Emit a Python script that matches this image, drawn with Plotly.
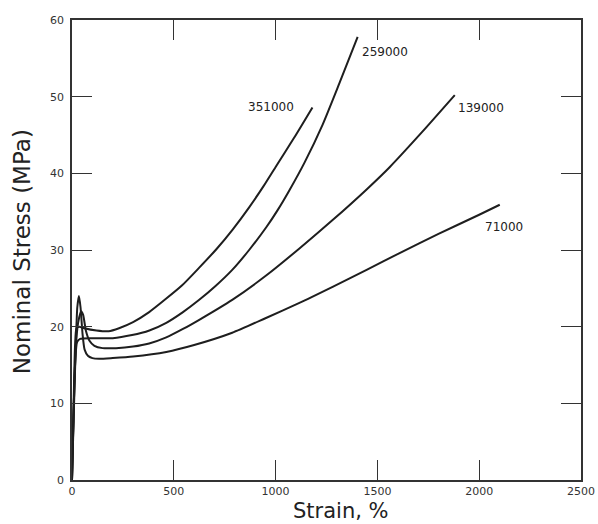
import plotly.graph_objects as go

# Molecular weight labels
labels = ["351000", "259000", "139000", "71000"]

# Strain (%) and nominal stress (MPa)
strain_351 = [0, 8, 15, 22, 35, 60, 120, 180, 231, 300, 379, 460, 541, 625, 709, 790, 871, 940, 1004, 1090, 1181]
stress_351 = [0, 10, 17.5, 19.8, 20.0, 19.8, 19.5, 19.4, 19.8, 20.6, 21.9, 23.6, 25.4, 27.7, 30.1, 32.7, 35.6, 38.3, 41.0, 44.6, 48.6]

strain_259 = [0, 8, 16, 25, 40, 100, 200, 295, 380, 463, 545, 625, 705, 787, 870, 955, 1010, 1068, 1142, 1230, 1314, 1403]
stress_259 = [0, 9, 15.5, 18.0, 18.4, 18.5, 18.5, 18.9, 19.5, 20.5, 21.9, 23.5, 25.3, 27.4, 30.0, 33.0, 35.2, 37.8, 41.4, 46.3, 51.8, 57.8]

strain_139 = [0, 8, 18, 30, 45, 55, 68, 85, 110, 150, 216, 300, 379, 463, 545, 625, 787, 955, 1117, 1280, 1447, 1560, 1720, 1880]
stress_139 = [0, 9, 17, 20.5, 22.0, 21.5, 19.5, 18.2, 17.5, 17.2, 17.2, 17.4, 17.8, 18.6, 19.7, 20.9, 23.5, 26.7, 30.2, 33.9, 37.9, 40.8, 45.4, 50.2]

strain_71 = [0, 8, 18, 26, 34, 42, 52, 62, 78, 100, 133, 200, 300, 463, 600, 787, 950, 1117, 1280, 1447, 1609, 1800, 2000, 2101]
stress_71 = [0, 8, 17, 22.5, 24.0, 22.5, 19.0, 17.0, 16.2, 15.9, 15.8, 15.9, 16.1, 16.7, 17.6, 19.2, 21.1, 23.1, 25.2, 27.4, 29.6, 32.1, 34.6, 35.9]

# Label positions (data coordinates)
label_x = [979, 1535, 2008, 2121]
label_y = [48.6, 55.8, 48.5, 33.0]

x_ticks = [0, 500, 1000, 1500, 2000, 2500]
y_ticks = [0, 10, 20, 30, 40, 50, 60]

FONT = "DejaVu Sans, Liberation Sans, Arial"

series = [
    (strain_351, stress_351),
    (strain_259, stress_259),
    (strain_139, stress_139),
    (strain_71, stress_71),
]

fig = go.Figure()
for (sx, sy), name in zip(series, labels):
    fig.add_trace(go.Scatter(
        x=sx, y=sy, mode="lines", name=name,
        line=dict(color="#1e1e1e", width=2, shape="spline", smoothing=0.6),
        showlegend=False, hoverinfo="skip",
    ))

for name, lx, ly in zip(labels, label_x, label_y):
    fig.add_annotation(x=lx, y=ly, text=name, showarrow=False,
                       font=dict(family=FONT, size=12, color="#222"))

# axis titles as annotations to match their positions
fig.add_annotation(x=0.528, y=0, xref="paper", yref="paper", yshift=-31,
                   text="Strain, %", showarrow=False, yanchor="middle",
                   font=dict(family=FONT, size=21, color="#222"))
fig.add_annotation(x=0, y=0.495, xref="paper", yref="paper", xshift=-50,
                   text="Nominal Stress (MPa)", showarrow=False, textangle=-90,
                   xanchor="center", yanchor="middle",
                   font=dict(family=FONT, size=23, color="#222"))

axis_common = dict(
    showline=True, linecolor="#333", linewidth=1.5, mirror="ticks",
    ticks="inside", ticklen=20, tickwidth=1.2, tickcolor="#333",
    showgrid=False, zeroline=False, automargin=False,
    tickfont=dict(family=FONT, size=11, color="#333"),
)

fig.update_xaxes(range=[0, 2500], tickvals=x_ticks, ticktext=[str(v) for v in x_ticks],
                 **axis_common)
fig.update_yaxes(range=[0, 60], tickvals=y_ticks, ticktext=[str(v) for v in y_ticks],
                 ticklabelstandoff=4, **axis_common)

fig.update_layout(
    width=598, height=524,
    margin=dict(l=72, r=17, t=20, b=44),
    paper_bgcolor="white", plot_bgcolor="white",
)

fig.write_html("out.html", config={"displayModeBar": False},
               post_script="document.body.style.margin='0px';document.body.style.overflow='hidden';")
